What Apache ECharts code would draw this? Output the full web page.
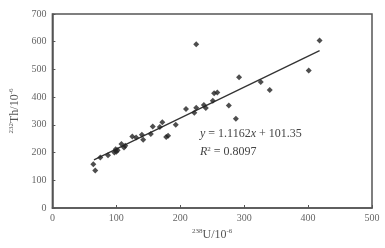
<!DOCTYPE html>
<html><head><meta charset="utf-8">
<script src="https://cdn.jsdelivr.net/npm/echarts@6/dist/echarts.min.js"></script>
<style>html,body{margin:0;padding:0;background:#fff}#c{width:385px;height:248px}</style>
</head><body><div id="c"></div>
<script>
var uValues = [64, 67, 75, 87, 97, 99, 100, 102, 108, 112, 114, 125, 131, 140, 142, 154, 157, 168, 172, 178, 181, 193, 209, 222, 225, 225, 237, 240, 251, 253, 258, 276, 287, 292, 326, 340, 401, 418];
var thValues = [158, 135, 182, 190, 200, 212, 203, 208, 231, 218, 225, 258, 254, 264, 246, 267, 294, 292, 309, 256, 261, 300, 357, 344, 362, 591, 372, 361, 387, 414, 417, 370, 322, 472, 455, 426, 496, 604];
var fitX = [65, 418];
var fitY = [173.9, 567.9];
var xTicks = [0, 100, 200, 300, 400, 500];
var yTicks = [0, 100, 200, 300, 400, 500, 600, 700];

var pts = uValues.map(function (u, i) { return [u, thValues[i]]; });
var fit = fitX.map(function (u, i) { return [u, fitY[i]]; });
var serif = 'Liberation Serif';
var chart = echarts.init(document.getElementById('c'));
chart.setOption({
  animation: false,
  grid: { left: 51, right: 13, top: 14, bottom: 40, show: true, borderColor: '#555', borderWidth: 1.5, backgroundColor: 'transparent' },
  xAxis: {
    type: 'value', min: 0, max: 500, interval: 100,
    axisLine: { show: true, lineStyle: { color: '#555', width: 1.5 } },
    axisTick: { show: true, inside: true, length: 3, lineStyle: { color: '#555' } },
    splitLine: { show: false },
    axisLabel: { color: '#666', fontFamily: serif, fontSize: 10, margin: 5 },
    name: '{sup|238}{b|U/10}{sup|-6}', nameLocation: 'middle', nameGap: 19,
    nameTextStyle: { rich: {
      b: { fontFamily: serif, fontSize: 12, color: '#555', verticalAlign: 'bottom' },
      sup: { fontFamily: serif, fontSize: 7, color: '#555', verticalAlign: 'top', padding: [0, 0, 6, 0] }
    } }
  },
  yAxis: {
    type: 'value', min: 0, max: 700, interval: 100,
    axisLine: { show: true, lineStyle: { color: '#555', width: 1.5 } },
    axisTick: { show: true, inside: true, length: 3, lineStyle: { color: '#555' } },
    splitLine: { show: false },
    axisLabel: { color: '#666', fontFamily: serif, fontSize: 10, margin: 6 },
    name: '{sup|232}{b|Th/10}{sup|-6}', nameLocation: 'middle', nameGap: 29, nameRotate: 90,
    nameTextStyle: { rich: {
      b: { fontFamily: serif, fontSize: 12, color: '#555' },
      sup: { fontFamily: serif, fontSize: 7, color: '#555', padding: [0, 0, 6, 0] }
    } }
  },
  series: [
    { type: 'scatter', data: pts, symbol: 'diamond', symbolSize: 6, itemStyle: { color: '#222' }, z: 3 },
    { type: 'line', data: fit, symbol: 'none', lineStyle: { color: '#333', width: 1.3 }, z: 2 }
  ],
  graphic: [
    { type: 'text', left: 200, top: 128, style: { text: '{i|y} = 1.1162{i|x} + 101.35', rich: { i: { fontFamily: serif, fontStyle: 'italic', fontSize: 12, fill: '#444' } }, fontFamily: serif, fontSize: 12, fill: '#444' } },
    { type: 'text', left: 200, top: 146, style: { text: '{i|R}{s|2} = 0.8097', rich: { i: { fontFamily: serif, fontStyle: 'italic', fontSize: 12, fill: '#444' }, s: { fontFamily: serif, fontSize: 7, fill: '#444', padding: [0, 0, 5, 0] } }, fontFamily: serif, fontSize: 12, fill: '#444' } }
  ]
});
</script></body></html>
